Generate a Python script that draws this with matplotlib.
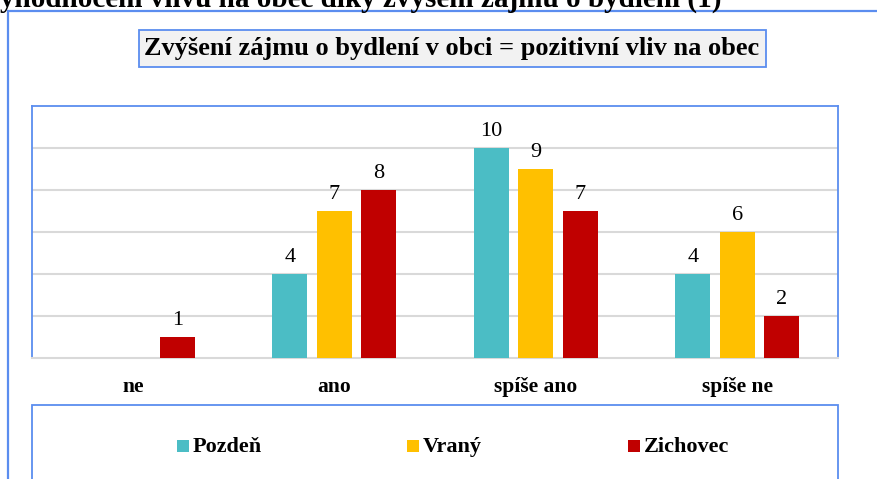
import matplotlib
matplotlib.use("Agg")
import matplotlib.pyplot as plt
from matplotlib.patches import Rectangle
import numpy as np

# data
categories = ["ne", "ano", "spíše ano", "spíše ne"]
series = ["Pozdeň", "Vraný", "Zichovec"]
pozden = [0, 4, 10, 4]
vrany = [0, 7, 9, 6]
zichovec = [1, 8, 7, 2]
values = [pozden, vrany, zichovec]
colors = ["#4BBDC5", "#FFC000", "#C00000"]

page_title = "yhodnocení vlivu na obec díky zvýšení zájmu o bydlení (1)"
chart_title = "Zvýšení zájmu o bydlení v obci = pozitivní vliv na obec"

W, H = 878, 479
blue = "#5B8DEF"
grid = "#D9D9D9"
serif = "Liberation Serif"

plt.rcParams["font.family"] = [serif, "DejaVu Serif"]

fig = plt.figure(figsize=(W / 100, H / 100), dpi=100)

def fx(x):
    return x / W

def fy(y):
    return 1 - y / H

# outer frame (runs off the right and bottom edge)
fig.patches.append(Rectangle((fx(8), fy(H + 20)), fx(W + 40), (H + 20 - 11) / H,
                             transform=fig.transFigure, fill=False,
                             edgecolor=blue, lw=1.6, zorder=0))

# cropped page heading at the top
fig.text(fx(0), fy(7), page_title, ha="left", va="baseline",
         fontsize=21, fontweight="bold")

# title box
fig.patches.append(Rectangle((fx(139), fy(67)), fx(766 - 139), (67 - 30) / H,
                             transform=fig.transFigure, facecolor="#F2F2F2",
                             edgecolor=blue, lw=1.3, zorder=1))
fig.text(fx(452), fy(49), chart_title, ha="center", va="center",
         fontsize=19, fontweight="bold", zorder=2)

# plot area
ax = fig.add_axes([fx(32), fy(358), fx(838 - 32), (358 - 106) / H])
x = np.arange(len(categories))
width = 0.174
step = 0.221
for i, (name, vals, col) in enumerate(zip(series, values, colors)):
    bars = ax.bar(x + (i - 1) * step, vals, width, color=col, label=name, zorder=3)
    labels = [str(v) if v > 0 else "" for v in vals]
    ax.bar_label(bars, labels=labels, padding=5, fontsize=16)

ax.set_xlim(-0.5, len(categories) - 0.5)
ax.set_ylim(0, 12)
ax.set_yticks([2, 4, 6, 8, 10])
ax.yaxis.grid(True, color=grid, lw=1.5, zorder=0)
ax.set_axisbelow(True)
ax.tick_params(axis="y", left=False, labelleft=False)
ax.tick_params(axis="x", bottom=False, pad=10)
ax.set_xticks(x)
ax.set_xticklabels(categories, fontsize=15.5, fontweight="bold")
for s in ["left", "top", "right"]:
    ax.spines[s].set_color(blue)
    ax.spines[s].set_linewidth(1.3)
ax.spines["bottom"].set_color(grid)
ax.spines["bottom"].set_linewidth(1.5)

# legend box, entries placed by hand like the original
fig.patches.append(Rectangle((fx(32), fy(H + 20)), fx(838 - 32), (H + 20 - 405) / H,
                             transform=fig.transFigure, fill=False,
                             edgecolor=blue, lw=1.3, zorder=1))
legend_x = [177, 407, 628]
for lx, name, col in zip(legend_x, series, colors):
    fig.patches.append(Rectangle((fx(lx), fy(452)), fx(12), 12 / H,
                                 transform=fig.transFigure, facecolor=col,
                                 edgecolor="none", zorder=2))
    fig.text(fx(lx + 16), fy(452), name, ha="left", va="baseline",
             fontsize=16, fontweight="bold")

fig.savefig("out.png", dpi=100)
